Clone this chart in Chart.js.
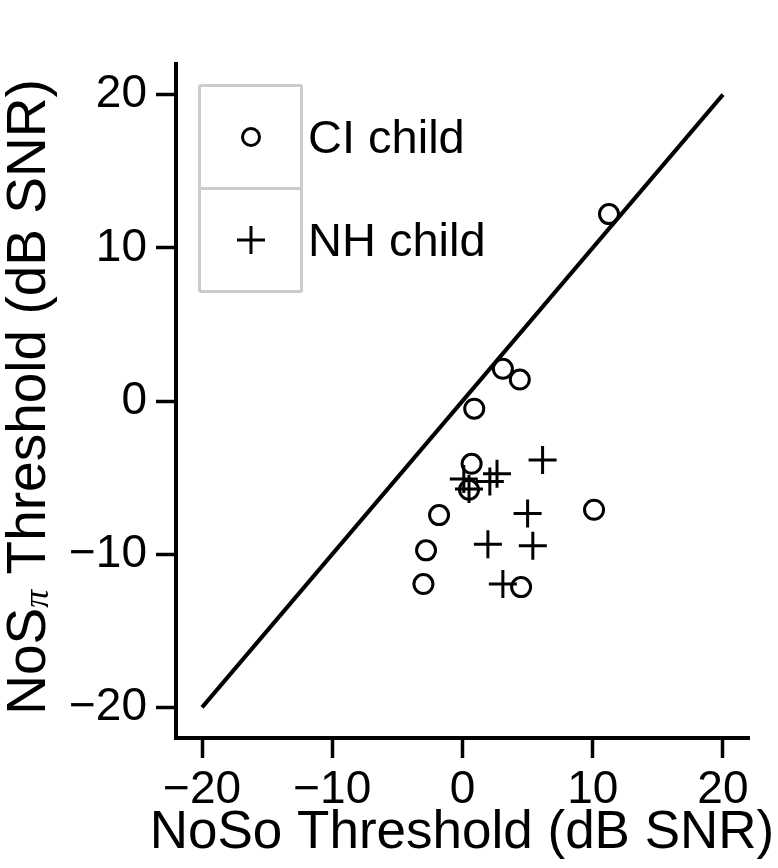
<!DOCTYPE html>
<html>
<head>
<meta charset="utf-8">
<script src="https://cdn.jsdelivr.net/npm/chart.js@4/dist/chart.umd.min.js"></script>
<style>
  html, body { margin: 0; padding: 0; background: #fff; }
  #wrap { position: relative; width: 778px; height: 868px; }
  #legend { position: absolute; left: 198px; top: 84px; font-family: "Liberation Sans", Arial, sans-serif; font-size: 47px; color: #000; }
  #legend .box { width: 99px; border: 3px solid #cccccc; border-radius: 3px; }
  #legend .cell { height: 100px; display: flex; align-items: center; justify-content: center; }
  #legend .cell + .cell { border-top: 3px solid #cccccc; }
  #legend .label { position: absolute; left: 110px; height: 100px; line-height: 100px; white-space: nowrap; }
</style>
</head>
<body>
<div id="wrap">
  <canvas id="chart" width="778" height="868"></canvas>
  <div id="legend"></div>
</div>
<script>
// --- data ---
const seriesNames = ['CI child', 'NH child'];
const ciX = [11.25, 3.1, 4.4, 0.9, 0.7, 0.5, -1.8, 10.1, -2.8, -3.0, 4.5];
const ciY = [12.2, 2.1, 1.4, -0.5, -4.1, -5.8, -7.45, -7.1, -9.75, -11.95, -12.15];
const nhX = [6.15, 2.65, 2.1, 0.1, 0.5, 5.0, 1.95, 5.4, 3.1];
const nhY = [-3.85, -4.75, -5.25, -5.1, -5.75, -7.35, -9.35, -9.45, -11.95];
const diagX = [-20, 20];
const diagY = [-20, 20];
const tickValues = [-20, -10, 0, 10, 20];

const xTitle = 'NoSo Threshold (dB SNR)';
// y title: "NoS" + subscript pi + rest
const yTitleParts = ['NoS', 'π', ' Threshold (dB SNR)'];

const FONT = '"Liberation Sans", Arial, sans-serif';
const toPoints = (xs, ys) => xs.map((x, i) => ({ x: x, y: ys[i] }));
const fmt = v => String(v).replace('-', '\u2212');

const axisBase = {
    type: 'linear',
    min: -22,
    max: 22,
    afterBuildTicks: scale => { scale.ticks = tickValues.map(v => ({ value: v })); },
    grid: { drawOnChartArea: false, drawTicks: true, tickLength: 20, tickWidth: 3.5, tickColor: '#000' },
    border: { display: true, color: '#000', width: 4 },
    title: { display: false }
};

// axis titles drawn by hand (x title is wider than the axis, y title has a subscript)
const axisTitles = {
    id: 'axisTitles',
    afterDraw(chart) {
        const ctx = chart.ctx;
        ctx.save();
        ctx.fillStyle = '#000';
        ctx.textBaseline = 'alphabetic';

        ctx.font = '53px ' + FONT;
        ctx.textAlign = 'center';
        ctx.fillText(xTitle, 462, 848);

        ctx.translate(45, 397);
        ctx.rotate(-Math.PI / 2);
        ctx.textAlign = 'left';
        const big = '55px ' + FONT;
        const sub = 'italic 36px "Liberation Serif", serif';
        ctx.font = big;
        const w0 = ctx.measureText(yTitleParts[0]).width;
        const w2 = ctx.measureText(yTitleParts[2]).width;
        ctx.font = sub;
        const w1 = ctx.measureText(yTitleParts[1]).width;
        let x = -(w0 + w1 + w2) / 2;
        ctx.font = big;
        ctx.fillText(yTitleParts[0], x, 0);
        x += w0;
        ctx.font = sub;
        ctx.fillText(yTitleParts[1], x, 3);
        x += w1;
        ctx.font = big;
        ctx.fillText(yTitleParts[2], x, 0);
        ctx.restore();
    }
};

new Chart(document.getElementById('chart'), {
    data: {
        datasets: [{
            type: 'line',
            label: 'identity',
            data: toPoints(diagX, diagY),
            borderColor: '#000',
            borderWidth: 4,
            pointRadius: 0,
            fill: false,
            order: 3
        }, {
            type: 'scatter',
            label: seriesNames[0],
            data: toPoints(ciX, ciY),
            pointStyle: 'circle',
            pointRadius: 9.5,
            pointBorderWidth: 3,
            borderColor: '#000',
            backgroundColor: 'rgba(0,0,0,0)',
            order: 1
        }, {
            type: 'scatter',
            label: seriesNames[1],
            data: toPoints(nhX, nhY),
            pointStyle: 'cross',
            pointRadius: 14,
            pointBorderWidth: 3,
            borderColor: '#000',
            backgroundColor: '#000',
            order: 2
        }]
    },
    options: {
        responsive: false,
        animation: false,
        layout: { padding: { top: 64, right: 29, bottom: 0, left: 0 } },
        plugins: { legend: { display: false }, tooltip: { enabled: false } },
        scales: {
            x: {
                ...axisBase,
                afterFit: scale => { scale.height = 130; },
                ticks: { color: '#000', padding: 9, font: { family: FONT, size: 46, lineHeight: 1 }, callback: fmt, maxRotation: 0 }
            },
            y: {
                ...axisBase,
                afterFit: scale => { scale.width = 176; },
                ticks: { color: '#000', padding: 9, font: { family: FONT, size: 46, lineHeight: 1 }, callback: fmt }
            }
        }
    },
    plugins: [axisTitles]
});

// --- legend (html) ---
const legend = document.getElementById('legend');
const symbols = [
    '<svg width="40" height="40"><circle cx="20" cy="20" r="8.5" fill="none" stroke="#000" stroke-width="3"/></svg>',
    '<svg width="40" height="40"><path d="M6 20H34M20 6V34" stroke="#000" stroke-width="3"/></svg>'
];
const box = document.createElement('div');
box.className = 'box';
seriesNames.forEach((name, i) => {
    const cell = document.createElement('div');
    cell.className = 'cell';
    cell.innerHTML = symbols[i];
    box.appendChild(cell);
    const lab = document.createElement('div');
    lab.className = 'label';
    lab.style.top = (3 + i * 103) + 'px';
    lab.textContent = name;
    legend.appendChild(lab);
});
legend.insertBefore(box, legend.firstChild);
</script>
</body>
</html>
